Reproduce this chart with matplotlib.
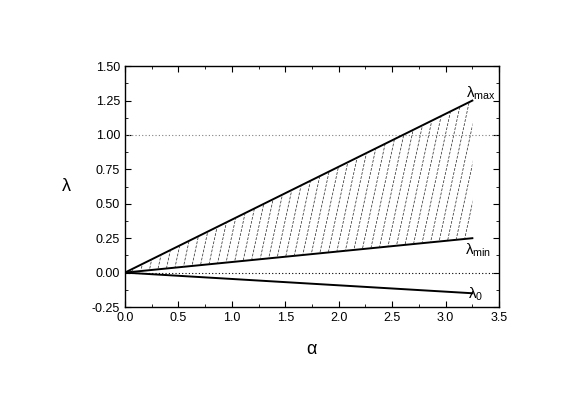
import numpy as np
import matplotlib
matplotlib.use("Agg")
import matplotlib.pyplot as plt
from matplotlib.patches import Polygon

plt.rcParams['font.family'] = ['Liberation Sans', 'DejaVu Sans']
plt.rcParams['mathtext.fontset'] = 'custom'
plt.rcParams['mathtext.rm'] = 'Liberation Sans'
plt.rcParams['mathtext.it'] = 'Liberation Sans'

# end points of the three straight lines (start at origin)
alpha_end = [0.0, 3.25]
lam_max = [0.0, 1.25]
lam_min = [0.0, 0.25]
lam_0 = [0.0, -0.15]

xticks = [0.0, 0.5, 1.0, 1.5, 2.0, 2.5, 3.0, 3.5]
yticks = [-0.25, 0.00, 0.25, 0.50, 0.75, 1.00, 1.25, 1.50]

fig = plt.figure(figsize=(5.81, 4.11), dpi=100)
ax = fig.add_axes([0.215, 0.253, 0.644, 0.586])

ax.axhline(1.0, color='gray', lw=0.8, ls=(0, (1, 2)))
ax.axhline(0.0, color='black', lw=0.8, ls=(0, (1, 2)))

ax.plot(alpha_end, lam_max, color='black', lw=1.4)
ax.plot(alpha_end, lam_min, color='black', lw=1.4)
ax.plot(alpha_end, lam_0, color='black', lw=1.4)

# hatched region between lambda_min and lambda_max
poly = Polygon([[0, 0], [alpha_end[1], lam_max[1]], [alpha_end[1], lam_min[1]]],
               closed=True, facecolor='none', edgecolor='none')
ax.add_patch(poly)
slope = 3.6
for a0 in np.arange(-0.4, 3.3, 0.078):
    xs = np.array([a0, a0 + 1.5 / slope])
    ys = (xs - a0) * slope
    ln, = ax.plot(xs, ys, color='#222222', lw=0.5, ls=(0, (4, 2)))
    ln.set_clip_path(poly)

ax.text(3.19, 1.30, r'$\lambda_{\rm max}$', fontsize=11, ha='left', va='center')
ax.text(3.18, 0.16, r'$\lambda_{\rm min}$', fontsize=11, ha='left', va='center')
ax.text(3.21, -0.16, r'$\lambda_0$', fontsize=11, ha='left', va='center')

ax.set_xlim(0, 3.5)
ax.set_ylim(-0.25, 1.5)
ax.set_xticks(xticks)
ax.set_yticks(yticks)
ax.set_xticklabels(['%.1f' % v for v in xticks])
ax.set_yticklabels(['%.2f' % v for v in yticks])
ax.set_xticks(np.arange(0.25, 3.5, 0.5), minor=True)
ax.set_yticks(np.arange(-0.125, 1.5, 0.25), minor=True)
ax.tick_params(which='both', direction='in', top=True, right=True, labelsize=9)
ax.tick_params(which='major', length=4)
ax.tick_params(which='minor', length=2)
for s in ax.spines.values():
    s.set_linewidth(1.0)

ax.set_xlabel(r'$\alpha$', fontsize=13, labelpad=12)
ax.set_ylabel(r'$\lambda$', fontsize=13, rotation=0, labelpad=18, va='center')

fig.savefig('out.png', dpi=100)
